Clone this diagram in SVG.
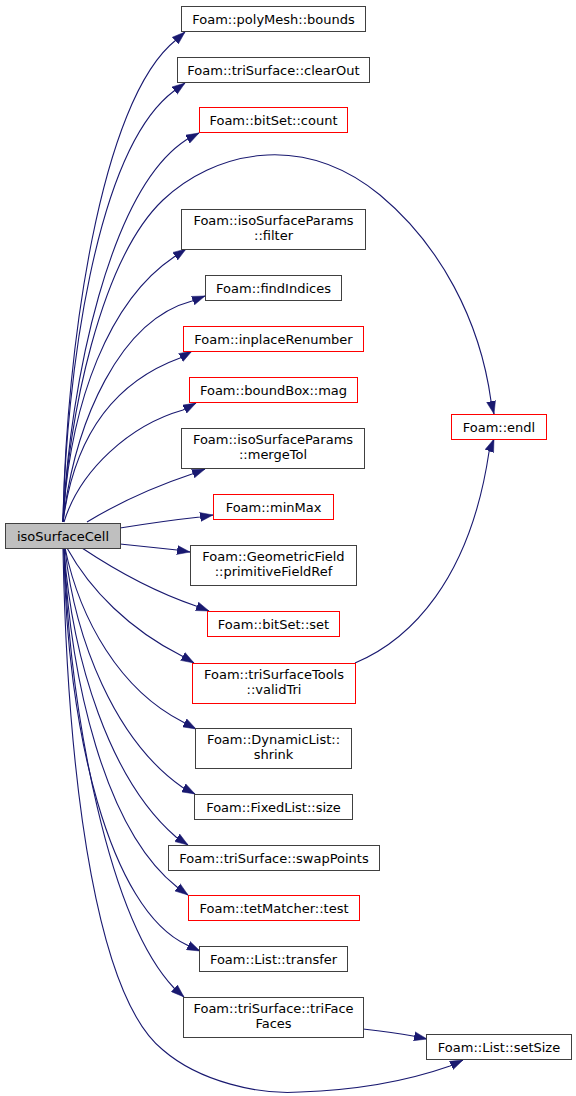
<svg xmlns="http://www.w3.org/2000/svg" width="576" height="1096" viewBox="0 0 576 1096">
<style>
.n rect{fill:#ffffff;stroke:#404040;stroke-width:1}
.r rect{stroke:#ff0000}
.s rect{fill:#bfbfbf}
text{font-family:"DejaVu Sans","Liberation Sans",sans-serif;font-size:13px;fill:#000;text-anchor:middle}
.e path{fill:none;stroke:#191970;stroke-width:1.1;marker-end:url(#ah)}
</style>
<defs>
<marker id="ah" markerUnits="userSpaceOnUse" viewBox="0 0 13 10" markerWidth="13" markerHeight="10" refX="13" refY="5" orient="auto">
<path d="M0,0.5 L13,5 L0,9.5 z" fill="#191970" stroke="#191970" stroke-width="0.5"/>
</marker>
</defs>
<rect width="576" height="1096" fill="#ffffff"/>
<g id="edges" class="e">
<path d="M63,522 C66,350 100,100 176,40 L185,32"/>
<path d="M63,522 C66,380 95,150 174,91 L185,83"/>
<path d="M63,522 C70,380 110,190 186,140 L199,133"/>
<path d="M63,522 C68,420 100,260 163,200 C213,153 300,130 380,195 C440,245 480,320 491,401 L494,414"/>
<path d="M63,522 C70,400 110,300 174,257 L186,249"/>
<path d="M63,522 C75,420 120,320 192,301 L205,296"/>
<path d="M63,522 C75,430 120,380 180,358 L192,351"/>
<path d="M64,522 C80,470 130,425 183,410 L196,403"/>
<path d="M87,522 C115,505 150,488 192,474 L205,469"/>
<path d="M120,528 C145,524 172,520 200,517 L213,515"/>
<path d="M120,544 C140,546 158,548 177,550 L190,552"/>
<path d="M82,548 C115,570 155,592 196,606 L209,611"/>
<path d="M67,548 C90,590 130,630 182,656 L194,663"/>
<path d="M65,548 C80,620 120,690 183,722 L196,729"/>
<path d="M65,549 C75,640 115,740 182,787 L195,794"/>
<path d="M64,549 C72,660 110,780 176,837 L188,845"/>
<path d="M64,549 C70,680 105,830 177,887 L188,895"/>
<path d="M64,549 C66,730 110,910 187,945 L200,951"/>
<path d="M64,549 C70,720 110,920 174,988 L184,997"/>
<path d="M63,549 C68,800 100,1000 163,1050 C200,1082 260,1095 300,1092 C360,1090 410,1080 450,1066 L463,1060"/>
<path d="M355,663 C410,640 470,580 489,452 L494,439"/>
<path d="M363,1029 C380,1031 396,1033 413,1036 L427,1039"/>
</g>
<g id="n1" class="n"><rect x="181.5" y="6.5" width="184" height="25"/><text x="273.5" y="23.5">Foam::polyMesh::bounds</text></g>
<g id="n2" class="n"><rect x="177.5" y="57.5" width="192" height="25"/><text x="273.5" y="74.5">Foam::triSurface::clearOut</text></g>
<g id="n3" class="n r"><rect x="199.5" y="107.5" width="148" height="25"/><text x="273.5" y="124.5">Foam::bitSet::count</text></g>
<g id="n4" class="n"><rect x="181.5" y="209.5" width="184" height="40"/><text x="273.5" y="225">Foam::isoSurfaceParams</text><text x="273.5" y="240">::filter</text></g>
<g id="n5" class="n"><rect x="205.5" y="275.5" width="136" height="25"/><text x="273.5" y="292.5">Foam::findIndices</text></g>
<g id="n6" class="n r"><rect x="183.5" y="326.5" width="180" height="25"/><text x="273.5" y="343.5">Foam::inplaceRenumber</text></g>
<g id="n7" class="n r"><rect x="189.5" y="377.5" width="168" height="25"/><text x="273.5" y="394.5">Foam::boundBox::mag</text></g>
<g id="n8" class="n"><rect x="181.5" y="428.5" width="183" height="40"/><text x="273" y="444">Foam::isoSurfaceParams</text><text x="273" y="459">::mergeTol</text></g>
<g id="n9" class="n r"><rect x="213.5" y="494.5" width="120" height="25"/><text x="273.5" y="511.5">Foam::minMax</text></g>
<g id="n10" class="n s"><rect x="5.5" y="523.5" width="115" height="25"/><text x="63" y="540.5">isoSurfaceCell</text></g>
<g id="n11" class="n"><rect x="190.5" y="545.5" width="166" height="40"/><text x="273.5" y="561">Foam::GeometricField</text><text x="273.5" y="576">::primitiveFieldRef</text></g>
<g id="n12" class="n r"><rect x="207.5" y="611.5" width="132" height="25"/><text x="273.5" y="628.5">Foam::bitSet::set</text></g>
<g id="n13" class="n r"><rect x="192.5" y="663.5" width="163" height="40"/><text x="274" y="679">Foam::triSurfaceTools</text><text x="274" y="694">::validTri</text></g>
<g id="n14" class="n"><rect x="195.5" y="728.5" width="156" height="40"/><text x="273.5" y="744">Foam::DynamicList::</text><text x="273.5" y="759">shrink</text></g>
<g id="n15" class="n"><rect x="194.5" y="794.5" width="158" height="25"/><text x="273.5" y="811.5">Foam::FixedList::size</text></g>
<g id="n16" class="n"><rect x="168.5" y="845.5" width="211" height="25"/><text x="274" y="862.5">Foam::triSurface::swapPoints</text></g>
<g id="n17" class="n r"><rect x="188.5" y="895.5" width="171" height="25"/><text x="274" y="912.5">Foam::tetMatcher::test</text></g>
<g id="n18" class="n"><rect x="199.5" y="946.5" width="148" height="25"/><text x="273.5" y="963.5">Foam::List::transfer</text></g>
<g id="n19" class="n"><rect x="183.5" y="997.5" width="180" height="40"/><text x="273.5" y="1013">Foam::triSurface::triFace</text><text x="273.5" y="1028">Faces</text></g>
<g id="n20" class="n r"><rect x="451.5" y="414.5" width="95" height="25"/><text x="499" y="431.5">Foam::endl</text></g>
<g id="n21" class="n"><rect x="426.5" y="1034.5" width="145" height="25"/><text x="499" y="1051.5">Foam::List::setSize</text></g>
</svg>
